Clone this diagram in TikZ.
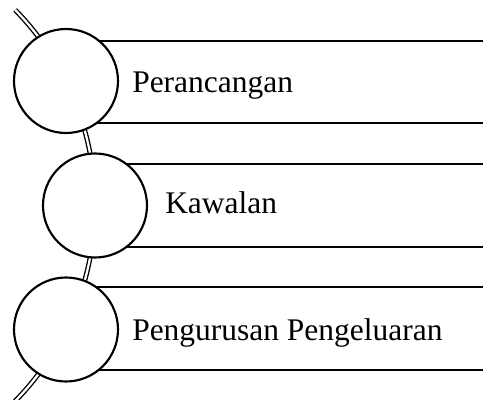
\documentclass[tikz,border=0pt]{standalone}
\usepackage{fontspec}
\setmainfont{Liberation Serif}
\begin{document}
\begin{tikzpicture}[x=0.75pt,y=-0.75pt,
  ring/.style={circle,draw=black,fill=white,line width=1.6pt,minimum size=104*0.75pt,inner sep=0pt},
  barline/.style={draw=black,line width=1.5pt},
  label/.style={anchor=base west,inner sep=0pt,font=\fontsize{23.6}{28}\selectfont},
  spine/.style={draw=black,double=white,line width=1pt,double distance=1.7pt}]
\useasboundingbox (0,0) rectangle (483,400);
% spine arc
\draw[spine] plot[domain=-44.4:44.6,samples=80] ({-184.6+279.6*cos(\x)},{205.5+279.6*sin(\x)});
% bars
\coordinate (b1a) at (66,40.7);  \coordinate (e1a) at (485,40.7);
\coordinate (b1b) at (66,122.7); \coordinate (e1b) at (485,122.7);
\coordinate (b2a) at (95,164);   \coordinate (e2a) at (485,164);
\coordinate (b2b) at (95,246.7); \coordinate (e2b) at (485,246.7);
\coordinate (b3a) at (66,286.7); \coordinate (e3a) at (485,286.7);
\coordinate (b3b) at (66,370);   \coordinate (e3b) at (485,370);
\draw[barline] (b1a) -- (e1a); \draw[barline] (b1b) -- (e1b);
\draw[barline] (b2a) -- (e2a); \draw[barline] (b2b) -- (e2b);
\draw[barline] (b3a) -- (e3a); \draw[barline] (b3b) -- (e3b);
% circles
\node[ring] (c1) at (66,81) {};
\node[ring] (c2) at (95,205.5) {};
\node[ring] (c3) at (66,329.5) {};
% labels
\node[label] (t1) at (132,92) {Perancangan};
\node[label] (t2) at (165,213) {Kawalan};
\node[label] (t3) at (132,340) {Pengurusan Pengeluaran};
\end{tikzpicture}
\end{document}
